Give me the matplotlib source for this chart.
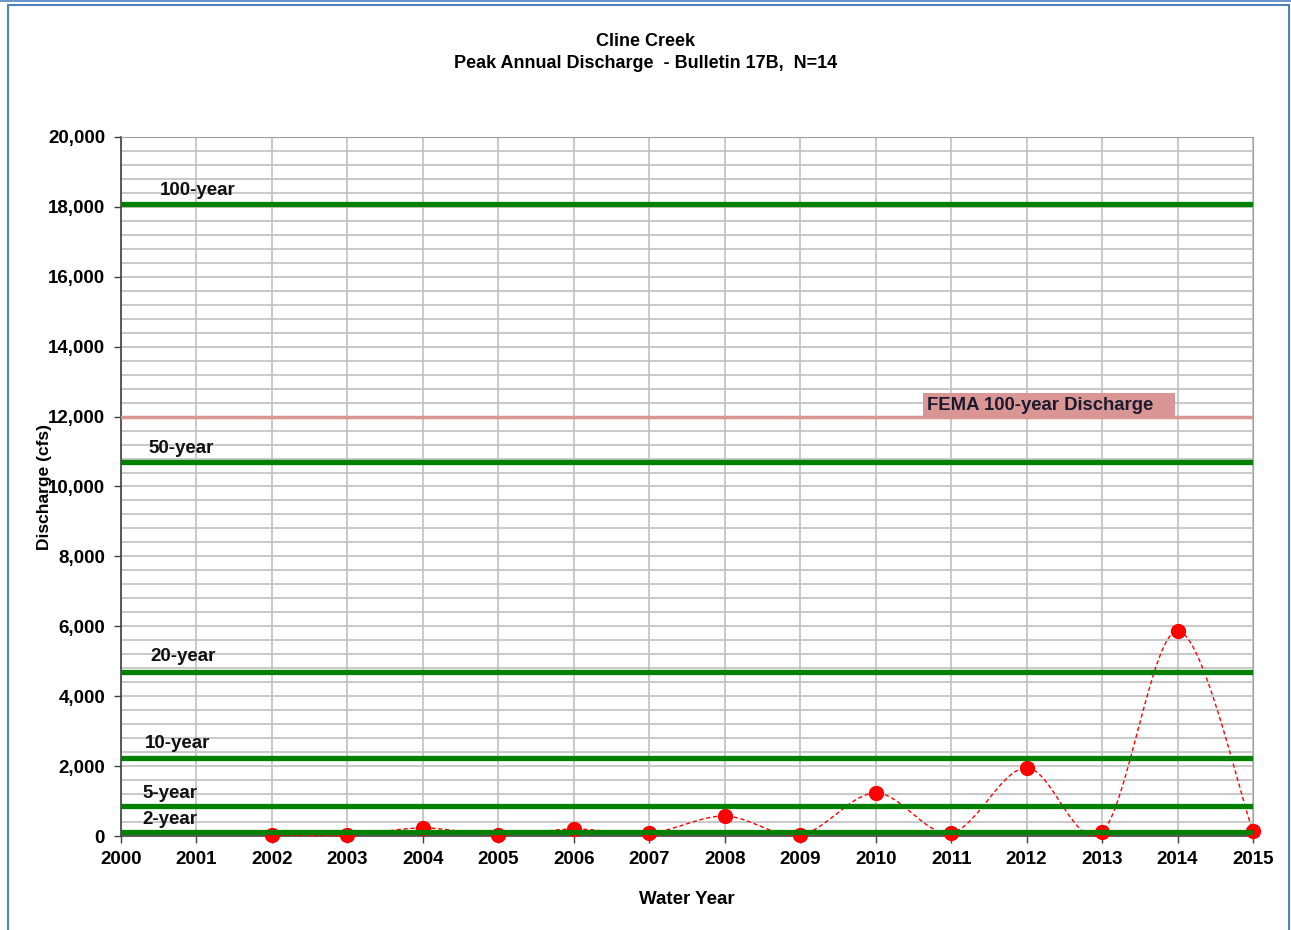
import numpy as np
import matplotlib
matplotlib.use("Agg")
import matplotlib.pyplot as plt
from matplotlib.patches import Rectangle
from matplotlib.lines import Line2D

plt.rcParams['font.family'] = ['Liberation Sans', 'DejaVu Sans']
plt.rcParams['font.weight'] = 'bold'

# ---- data ----
years = [2002, 2003, 2004, 2005, 2006, 2007, 2008, 2009, 2010, 2011, 2012, 2013, 2014, 2015]
peaks = [30, 20, 230, 30, 200, 80, 570, 30, 1230, 90, 1950, 110, 5870, 130]

return_labels = ["100-year", "50-year", "20-year", "10-year", "5-year", "2-year"]
return_values = [18080, 10700, 4700, 2230, 860, 120]
label_x = [2000.52, 2000.36, 2000.39, 2000.32, 2000.28, 2000.28]
label_y = [18480, 11100, 5150, 2660, 1230, 460]

fema_label = "FEMA 100-year Discharge"
fema_value = 12000
fema_box_x = [2010.63, 2013.97]
fema_box_y = [11930, 12680]

title_lines = ["Cline Creek", "Peak Annual Discharge  - Bulletin 17B,  N=14"]
xlabel = "Water Year"
ylabel = "Discharge (cfs)"
x_ticks = list(range(2000, 2016))
y_ticks = list(range(0, 20001, 2000))


def smooth_curve(xs, ys, n=40):
    """Excel-like smoothed line (Catmull-Rom via cubic Bezier)."""
    P = np.column_stack([xs, ys]).astype(float)
    out = []
    m = len(P)
    t = np.linspace(0, 1, n)[:, None]
    for i in range(m - 1):
        p0 = P[i - 1] if i > 0 else P[i]
        p1 = P[i]
        p2 = P[i + 1]
        p3 = P[i + 2] if i + 2 < m else P[i + 1]
        c1 = p1 + (p2 - p0) / 6.0
        c2 = p2 - (p3 - p1) / 6.0
        seg = ((1 - t) ** 3) * p1 + 3 * ((1 - t) ** 2) * t * c1 + 3 * (1 - t) * t ** 2 * c2 + t ** 3 * p2
        out.append(seg if i == 0 else seg[1:])
    out = np.vstack(out)
    return out[:, 0], out[:, 1]


fig = plt.figure(figsize=(12.91, 9.30), dpi=100)
ax = fig.add_axes([121 / 1291, 94 / 930, 1132 / 1291, 699 / 930])

ax.set_xlim(2000, 2015)
ax.set_ylim(0, 20000)
ax.set_xticks(x_ticks)
ax.set_yticks(y_ticks)
ax.set_yticks(np.arange(0, 20001, 400), minor=True)
ax.set_xticklabels([str(v) for v in x_ticks])
ax.set_yticklabels([f"{v:,}" for v in y_ticks])

ax.grid(True, which='major', axis='both', color='#c0c0c0', lw=1.2, zorder=0)
ax.grid(True, which='minor', axis='y', color='#c0c0c0', lw=1.2, zorder=0)
ax.tick_params(axis='y', which='minor', length=0)
ax.tick_params(axis='both', which='major', labelsize=13.5, length=5, width=1, color='#404040')
ax.tick_params(axis='y', which='major', pad=6.5)
ax.tick_params(axis='x', which='major', pad=6)
ax.set_axisbelow(True)
for s in ['top', 'right']:
    ax.spines[s].set_color('#a0a0a0')
for s in ['left', 'bottom']:
    ax.spines[s].set_color('#404040')
    ax.spines[s].set_linewidth(1.2)

# data series
sx, sy = smooth_curve(years, peaks)
ax.plot(sx, sy, color='#ff0000', lw=1.0, ls=(0, (3, 2)), zorder=3, clip_on=False)
ax.plot(years, peaks, 'o', color='#ff0000', ms=10, zorder=3, clip_on=False)

# FEMA line and label box
ax.axhline(fema_value, color='#d99694', lw=2.5, zorder=4)
ax.add_patch(Rectangle((fema_box_x[0], fema_box_y[0]), fema_box_x[1] - fema_box_x[0],
                       fema_box_y[1] - fema_box_y[0], facecolor='#d99694', edgecolor='none', zorder=4))
ax.text(fema_box_x[0] + 0.05, (fema_box_y[0] + fema_box_y[1]) / 2, fema_label, fontsize=13.3,
        fontweight='bold', color='#1a1a2e', va='center', ha='left', zorder=5)

# return period lines
for lab, val, lx, ly in zip(return_labels, return_values, label_x, label_y):
    ax.axhline(val, color='#008000', lw=3.8, zorder=6)
    ax.text(lx, ly, lab, fontsize=13.5, fontweight='bold', color='#111111',
            ha='left', va='center', zorder=7)

ax.set_xlabel(xlabel, fontsize=13.5, fontweight='bold', labelpad=16.5)
ax.set_ylabel(ylabel, fontsize=12.5, fontweight='bold', labelpad=-3)

fig.text(0.5, 1 - 41 / 930, title_lines[0], ha='center', va='center', fontsize=13, fontweight='bold')
fig.text(0.5, 1 - 63 / 930, title_lines[1], ha='center', va='center', fontsize=13, fontweight='bold')

# outer chart frame
fig.add_artist(Rectangle((8 / 1291, -0.01), 1281 / 1291, 1 - 5 / 930 + 0.01,
                         transform=fig.transFigure, fill=False, edgecolor='#4f81bd', lw=1.5))
fig.add_artist(Line2D([0, 1], [1 - 1 / 930, 1 - 1 / 930], transform=fig.transFigure,
                      color='#4f81bd', lw=1.2))

fig.savefig('out.png', dpi=100)
